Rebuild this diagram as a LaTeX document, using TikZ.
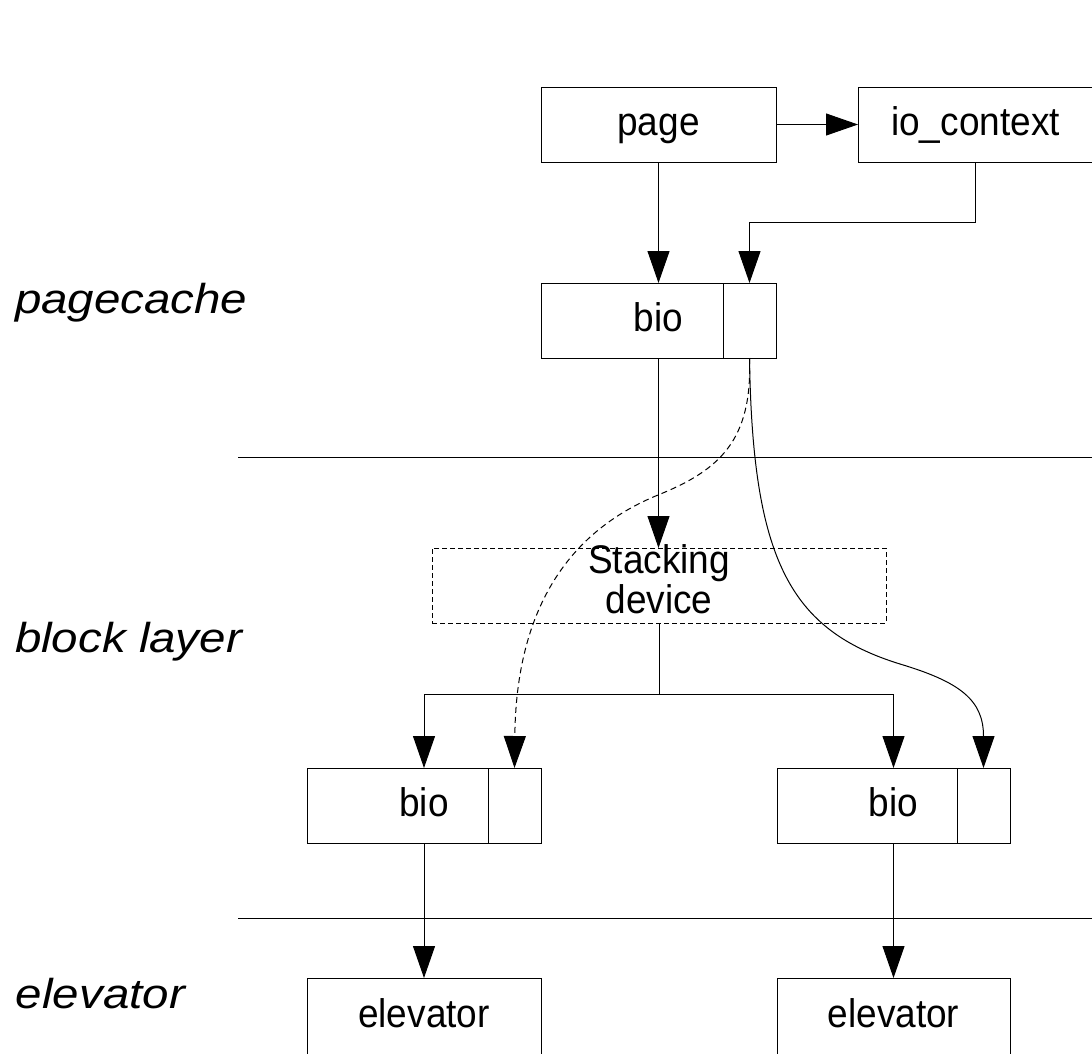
\documentclass[tikz,border=0pt]{standalone}
\usepackage{graphicx}
\usepackage{fontspec}
\setmainfont{Liberation Sans}
\usetikzlibrary{arrows.meta}
% box captions are set slightly taller than wide, layer names slightly flatter
\newcommand\tallcap[1]{\scalebox{1}[1.08]{#1}}
\newcommand\flatcap[1]{\scalebox{1}[0.88]{#1}}
\begin{document}
\begin{tikzpicture}[x=1pt,y=-1pt,
  every node/.style={inner sep=0pt, outer sep=0pt},
  box/.style={draw, line width=1pt, minimum width=235pt, minimum height=75pt,
    font=\fontsize{37}{37}\selectfont, text height=30pt, text depth=8pt},
  slot/.style={draw, line width=1pt, minimum width=53pt, minimum height=75pt},
  stackbox/.style={draw, line width=0.9pt, dash pattern=on 5pt off 3pt,
    minimum width=454pt, minimum height=75pt,
    font=\fontsize{37}{33}\selectfont, text height=60pt, text depth=5pt},
  layer/.style={font=\fontsize{47.5}{47.5}\selectfont\itshape, anchor=base west},
  conn/.style={line width=1pt},
  arr/.style={conn, -{Triangle[length=32pt,width=22pt]}},
  dasharr/.style={arr, dash pattern=on 6pt off 4pt},
]
\useasboundingbox (0,0) rectangle (1092,1053);

% layer names
\node[layer] (lpc) at (15,313) {\flatcap{pagecache}};
\node[layer] (lbl) at (15,652) {\flatcap{block layer}};
\node[layer] (lel) at (16,1008) {\flatcap{elevator}};

% layer separators
\coordinate (s1a) at (238,457);
\coordinate (s1b) at (1093,457);
\coordinate (s2a) at (238,918);
\coordinate (s2b) at (1093,918);
\draw[conn] (s1a) -- (s1b);
\draw[conn] (s2a) -- (s2b);

% pagecache
\node[box] (page) at (658.5,124.5) {\tallcap{page}};
\node[box] (io) at (975.5,124.5) {\tallcap{io\_context}};
\node[box] (bio) at (658.5,320.5) {\tallcap{bio}};
\node[slot, anchor=east] (bioslot) at (bio.east) {};

% block layer
\node[stackbox] (stack) at (659,585.5)
  {\tallcap{\begin{tabular}[b]{@{}c@{}}Stacking\\device\end{tabular}}};
\node[box, minimum width=234pt] (lbio) at (424,805.5) {\tallcap{bio}};
\node[slot, anchor=east] (lslot) at (lbio.east) {};
\node[box, minimum width=233pt] (rbio) at (893.5,805.5) {\tallcap{bio}};
\node[slot, anchor=east] (rslot) at (rbio.east) {};

% elevators
\node[box, minimum width=234pt, minimum height=77pt] (lelev) at (424,1016.5) {\tallcap{elevator}};
\node[box, minimum width=233pt, minimum height=77pt] (relev) at (893.5,1016.5) {\tallcap{elevator}};

% connectors
\draw[arr] (page.east) -- (io.west);
\draw[arr] (page.south) -- (bio.north);
\draw[arr] (io.south) -- ++(0,60) -| (bioslot.north);
\draw[arr] (bio.south) -- (bio.south |- stack.north);
\draw[conn] (stack.south) -- ++(0,71) coordinate (fork);
\draw[arr] (fork) -| (lbio.north);
\draw[arr] (fork) -| (rbio.north);
\draw[dasharr] (bioslot.south) .. controls (752.5,440) and (720,470) .. (658,495)
  .. controls (560,535) and (516,620) .. (lslot.north);
\draw[arr] (bioslot.south) .. controls (752.5,560) and (790,630) .. (900,664)
  .. controls (960,682) and (983.5,700) .. (rslot.north);
\draw[arr] (lbio.south) -- (lelev.north);
\draw[arr] (rbio.south) -- (relev.north);
\end{tikzpicture}
\end{document}
